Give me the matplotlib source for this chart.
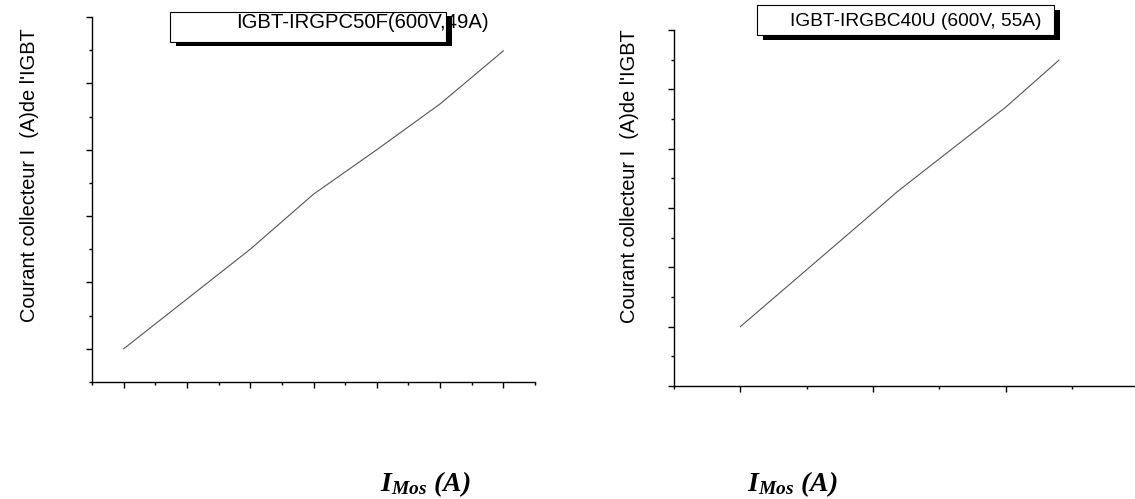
import matplotlib
matplotlib.use("Agg")
import matplotlib.pyplot as plt
from matplotlib.patches import Rectangle
from matplotlib.ticker import MultipleLocator

# Collector current of the IGBT versus MOSFET current
x_irgpc50f = [1, 2, 3, 4, 5, 6, 7]
y_irgpc50f = [1.0, 1.75, 2.5, 3.33, 4.0, 4.69, 5.49]

x_irgbc40u = [1.0, 1.5, 2.0, 2.18, 2.5, 3.0, 3.4]
y_irgbc40u = [1.0, 1.96, 2.92, 3.27, 3.83, 4.70, 5.49]

titles = ["IGBT-IRGPC50F(600V,49A)", "IGBT-IRGBC40U (600V, 55A)"]
ylabel = "Courant collecteur I  (A)de l'IGBT"
xlabel = r"$I_{Mos}\ (A)$"

plt.rcParams["font.family"] = ["Liberation Sans", "DejaVu Sans"]
plt.rcParams["mathtext.fontset"] = "custom"
plt.rcParams["mathtext.it"] = "Liberation Serif:bold:italic"
plt.rcParams["mathtext.rm"] = "Liberation Serif:bold:italic"
plt.rcParams["mathtext.bf"] = "Liberation Serif:bold:italic"

W, H = 1135, 499
fig = plt.figure(figsize=(W / 100, H / 100), dpi=100)


def box(x0, y0, x1, y1):
    """Figure-fraction rectangle from pixel edges (y measured from top)."""
    return [x0 / W, 1 - y1 / H, (x1 - x0) / W, (y1 - y0) / H]


def px(x, y):
    return x / W, 1 - y / H


def style(ax):
    for s in ("top", "right"):
        ax.spines[s].set_visible(False)
    for s in ("left", "bottom"):
        ax.spines[s].set_linewidth(1.0)
    ax.tick_params(which="major", direction="out", length=4.6, width=1.0,
                   labelbottom=False, labelleft=False)
    ax.tick_params(which="minor", direction="out", length=2.4, width=1.0)
    ax.patch.set_alpha(0)


axL = fig.add_axes(box(92, 17, 535, 382))
axL.plot(x_irgpc50f, y_irgpc50f, color="#555555", lw=0.8)
axL.set_xlim(0.5, 7.5)
axL.set_ylim(0.5, 6.0)
axL.xaxis.set_major_locator(MultipleLocator(1))
axL.xaxis.set_minor_locator(MultipleLocator(0.5))
axL.yaxis.set_major_locator(MultipleLocator(1))
axL.yaxis.set_minor_locator(MultipleLocator(0.5))
style(axL)

axR = fig.add_axes(box(674, 30, 674 + 3.5 * 132.7, 386))
axR.plot(x_irgbc40u, y_irgbc40u, color="#555555", lw=0.8)
axR.set_xlim(0.5, 4.0)
axR.set_ylim(0.0, 6.0)
axR.xaxis.set_major_locator(MultipleLocator(1))
axR.xaxis.set_minor_locator(MultipleLocator(0.5))
axR.yaxis.set_major_locator(MultipleLocator(1))
axR.yaxis.set_minor_locator(MultipleLocator(0.5))
style(axR)


def rect(x0, y0, x1, y1, **kw):
    r = Rectangle(px(x0, y1), (x1 - x0) / W, (y1 - y0) / H,
                  transform=fig.transFigure, figure=fig, **kw)
    fig.patches.append(r)


def title_box(bx0, by0, bx1, by1, tx, ty, text, size, dx=5.5, dy=4.5):
    rect(bx0, by0, bx1, by1, facecolor="white", edgecolor="black",
         lw=0.8, zorder=1)
    fig.text(*px(tx, ty), text, ha="left", va="center", fontsize=size,
             zorder=2)
    # drop shadow drawn over the right and bottom edges
    rect(bx1, by0 + dy, bx1 + dx, by1 + dy, facecolor="black",
         edgecolor="none", zorder=3)
    rect(bx0 + dx, by1, bx1 + dx, by1 + dy, facecolor="black",
         edgecolor="none", zorder=3)


title_box(170, 11.7, 446, 41.7, 236, 23, titles[0], 14.6)
title_box(757, 5, 1054, 35, 790, 21, titles[1], 13.8)

for xb, yc in ((35, 175), (635, 176)):
    fig.text(*px(xb, yc), ylabel, rotation=90, rotation_mode="anchor",
             ha="center", va="baseline", fontsize=14.4)

for xs in (380, 747):
    fig.text(*px(xs, 491), xlabel, ha="left", va="baseline", fontsize=20)

fig.savefig("out.png", dpi=100)
